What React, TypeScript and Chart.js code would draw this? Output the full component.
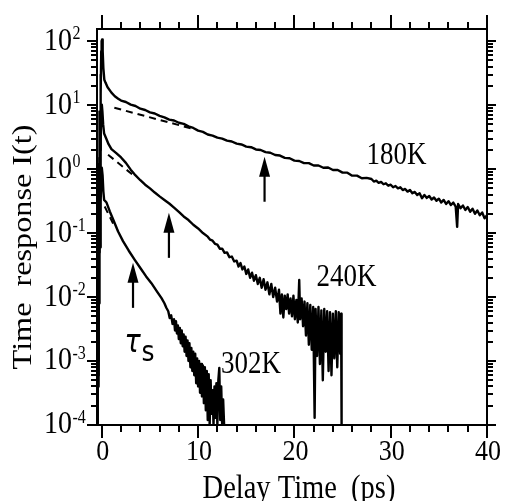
import React, { useEffect, useRef } from "react";
import { Chart, registerables } from "chart.js";

Chart.register(...registerables);

// ---------- axis ranges & ticks ----------
const X_MIN = -0.5;
const X_MAX = 40;
const Y_MIN = 1e-4;
const Y_MAX = 155;
const X_TICKS = [0, 2, 4, 6, 8, 10, 12, 14, 16, 18, 20, 22, 24, 26, 28, 30, 32, 34, 36, 38, 40];
const X_LABELS = [0, 10, 20, 30, 40];
const Y_DECADES = [-4, -3, -2, -1, 0, 1, 2];
const Y_EXP_LABELS = ["-4", "-3", "-2", "-1", "0", "1", "2"];
const Y_MINOR_FACTORS = [2, 3, 4, 5, 6, 7, 8, 9];
const X_TITLE = "Delay Time  (ps)";
const Y_TITLE = "Time  response I(t)";

// ---------- data: [delay (ps), I(t)] ----------
const series180K: [number, number][] = [
  [-0.5, 1.0e-4], [-0.47, 4e-3], [-0.44, 3e-4], [-0.41, 2e-2], [-0.38, 1e-3], [-0.35, 0.15],
  [-0.32, 0.01], [-0.29, 1.2], [-0.26, 0.1], [-0.22, 8], [-0.18, 2], [-0.14, 30], [-0.1, 15],
  [-0.06, 70], [-0.02, 100], [0.03, 106], [0.09, 70], [0.16, 38], [0.26, 25], [0.38, 22.5],
  [0.6, 19], [1.0, 15.7], [1.35, 13.8], [1.7, 12.6], [2.0, 11.8], [2.5, 11.2], [3.0, 10.2],
  [3.5, 9.7], [4.0, 8.8], [4.5, 8.4], [5.0, 7.7], [5.5, 7.4], [6.0, 6.8], [6.5, 6.45], [7.0, 5.95],
  [7.5, 5.75], [8.0, 5.3], [8.5, 5.1], [9.0, 4.65], [9.5, 4.4], [10.0, 4.0], [10.5, 3.82],
  [11.0, 3.48], [11.5, 3.34], [12.0, 3.1], [12.5, 3.0], [13.0, 2.79], [13.5, 2.7], [14.0, 2.5],
  [14.5, 2.43], [15.0, 2.25], [15.5, 2.2], [16.0, 2.03], [16.5, 1.99], [17.0, 1.84], [17.5, 1.8],
  [18.0, 1.66], [18.5, 1.63], [19.0, 1.5], [19.5, 1.48], [20.0, 1.36], [20.5, 1.34], [21.0, 1.24],
  [21.5, 1.24], [22.0, 1.14], [22.5, 1.14], [23.0, 1.05], [23.5, 1.06], [24.0, 0.97], [24.5, 0.97],
  [25.0, 0.88], [25.5, 0.88], [26.0, 0.79], [26.5, 0.79], [27.0, 0.72], [27.5, 0.73], [28.0, 0.7],
  [28.25, 0.64], [28.5, 0.66], [28.75, 0.61], [29.0, 0.63], [29.25, 0.58], [29.5, 0.6], [29.75, 0.55],
  [30.0, 0.57], [30.25, 0.52], [30.5, 0.545], [30.75, 0.5], [31.0, 0.52], [31.25, 0.47], [31.5, 0.49],
  [31.75, 0.445], [32.0, 0.47], [32.25, 0.42], [32.5, 0.44], [32.75, 0.395], [33.0, 0.42], [33.25, 0.35],
  [33.5, 0.395], [33.75, 0.355], [34.0, 0.38], [34.25, 0.335], [34.5, 0.36], [34.75, 0.32], [35.0, 0.345],
  [35.25, 0.3], [35.5, 0.33], [35.75, 0.285], [36.0, 0.315], [36.25, 0.275], [36.5, 0.3], [36.75, 0.26],
  [36.9, 0.125], [37.0, 0.285], [37.25, 0.245], [37.5, 0.27], [37.75, 0.23], [38.0, 0.255], [38.25, 0.215],
  [38.5, 0.24], [38.75, 0.2], [39.0, 0.225], [39.25, 0.19], [39.5, 0.21], [39.75, 0.17], [40.0, 0.19],
];

const series240K: [number, number][] = [
  [-0.5, 1.1e-4], [-0.47, 2e-3], [-0.44, 2e-4], [-0.41, 8e-3], [-0.38, 6e-4], [-0.35, 0.05],
  [-0.32, 4e-3], [-0.29, 0.3], [-0.26, 0.05], [-0.22, 1.5], [-0.18, 0.6], [-0.14, 5], [-0.1, 3],
  [-0.05, 9], [0.0, 10.2], [0.06, 8], [0.14, 5], [0.24, 3.6], [0.38, 3.2], [0.5, 2.9], [0.7, 2.45],
  [1.0, 2.05], [1.5, 1.78], [2.0, 1.52], [2.5, 1.25], [3.0, 0.98], [3.4, 0.83], [4.0, 0.67],
  [4.5, 0.57], [5.0, 0.5], [5.5, 0.43], [6.0, 0.375], [6.5, 0.33], [7.0, 0.29], [7.5, 0.25],
  [8.0, 0.215], [8.5, 0.182], [9.0, 0.16], [9.5, 0.135], [10.0, 0.118], [10.5, 0.1], [11.0, 0.088],
  [11.25, 0.079], [11.5, 0.076], [11.75, 0.068], [12.0, 0.066], [12.25, 0.057], [12.5, 0.057],
  [12.75, 0.049], [13.0, 0.05], [13.25, 0.042], [13.5, 0.043], [13.75, 0.036], [14.0, 0.037],
  [14.2, 0.03], [14.4, 0.034], [14.6, 0.027], [14.8, 0.03], [15.0, 0.023], [15.2, 0.027], [15.4, 0.02],
  [15.6, 0.024], [15.8, 0.018], [16.0, 0.022], [16.2, 0.016], [16.4, 0.02], [16.6, 0.014], [16.8, 0.019],
  [17.0, 0.013], [17.2, 0.017], [17.4, 0.011], [17.6, 0.016], [17.8, 0.01], [18.0, 0.014], [18.2, 0.0085],
  [18.4, 0.013], [18.55, 0.0055], [18.7, 0.011], [18.85, 0.0048], [19.0, 0.0105], [19.15, 0.0065],
  [19.3, 0.011], [19.45, 0.0055], [19.6, 0.0095], [19.75, 0.005], [19.9, 0.0105], [20.05, 0.0045],
  [20.2, 0.009], [20.35, 0.004], [20.5, 0.0185], [20.6, 0.0045], [20.75, 0.0095], [20.9, 0.0035],
  [21.05, 0.0085], [21.2, 0.0025], [21.35, 0.008], [21.5, 0.0018], [21.65, 0.0075], [21.8, 0.0015],
  [21.95, 0.007], [22.1, 1.3e-4], [22.2, 0.0065], [22.35, 0.0012], [22.5, 0.007], [22.65, 0.0009],
  [22.8, 0.0062], [22.95, 0.0005], [23.1, 0.0065], [23.25, 0.0014], [23.4, 0.006], [23.55, 0.0007],
  [23.7, 0.0058], [23.85, 0.0006], [24.0, 0.0055], [24.15, 0.0011], [24.3, 0.006], [24.45, 0.0008],
  [24.6, 0.0058], [24.75, 0.0013], [24.85, 0.0055], [24.9, 1.0e-4],
];

const series302K: [number, number][] = [
  [-0.5, 1.0e-4], [-0.47, 1e-3], [-0.44, 1.5e-4], [-0.41, 3e-3], [-0.38, 4e-4], [-0.35, 0.01],
  [-0.32, 1e-3], [-0.29, 0.05], [-0.26, 0.008], [-0.22, 0.2], [-0.18, 0.06], [-0.14, 0.6], [-0.1, 0.3],
  [-0.05, 0.9], [0.0, 1.05], [0.08, 0.8], [0.16, 0.45], [0.24, 0.33], [0.49, 0.3], [0.83, 0.218],
  [1.2, 0.16], [1.69, 0.106], [2.2, 0.075], [2.8, 0.053], [3.42, 0.0382], [4.0, 0.0285], [4.6, 0.021],
  [5.15, 0.0165], [5.7, 0.0124], [6.2, 0.0096], [6.5, 0.008], [6.7, 0.0068], [6.9, 0.006], [7.05, 0.0047],
  [7.2, 0.0052], [7.35, 0.0038], [7.5, 0.0045], [7.6, 0.003], [7.7, 0.0042], [7.8, 0.0027], [7.9, 0.0036],
  [8.0, 0.0022], [8.1, 0.0033], [8.2, 0.0019], [8.3, 0.003], [8.4, 0.0017], [8.5, 0.0026], [8.6, 0.0014],
  [8.7, 0.0024], [8.8, 0.0012], [8.9, 0.0021], [9.0, 0.001], [9.1, 0.0019], [9.2, 0.0008], [9.3, 0.0016],
  [9.4, 0.0007], [9.5, 0.0014], [9.6, 0.0006], [9.7, 0.0013], [9.8, 0.00045], [9.9, 0.0011], [10.0, 0.0004],
  [10.1, 0.001], [10.2, 0.00032], [10.3, 0.0009], [10.4, 0.00028], [10.5, 0.00085], [10.6, 0.00022],
  [10.7, 0.0008], [10.8, 0.00017], [10.9, 0.0007], [11.0, 0.00012], [11.1, 0.00062], [11.2, 1.0e-4],
  [11.3, 0.0005], [11.4, 0.00015], [11.5, 0.00035], [11.6, 1.0e-4], [11.7, 0.0004], [11.8, 0.00013],
  [11.9, 0.00045], [12.0, 1.0e-4], [12.1, 0.0005], [12.2, 0.00078], [12.3, 0.00012], [12.4, 0.0004],
  [12.5, 1.0e-4], [12.6, 0.00025], [12.7, 1.0e-4],
];

// dashed single-exponential fits
const fit180K: [number, number][] = [[1.3, 9.1], [9.6, 4.2]];
const fit240K: [number, number][] = [[0.65, 1.68], [3.5, 0.75]];
const fit302K: [number, number][] = [[0.3, 0.26], [1.4, 0.12]];

// annotations (data coordinates)
const CURVE_LABELS = ["180K", "240K", "302K"];
const CURVE_LABEL_T = [30.6, 25.4, 15.5];
const CURVE_LABEL_V = [1.62, 0.02, 8.7e-4];
const ARROW_T = [16.9, 6.97, 3.24];
const ARROW_TIP = [1.56, 0.208, 0.0343];
const ARROW_BASE = [0.309, 0.041, 0.00678];
const TAU_T = 2.35;
const TAU_V = 0.00139;

const SERIF = '"Liberation Serif", "Times New Roman", serif';
const STRETCH = 1.15;

function toXY(arr: [number, number][]) {
  return arr.map(([x, y]) => ({ x, y }));
}

function stretchedText(
  ctx: CanvasRenderingContext2D,
  text: string,
  x: number,
  y: number,
  font: string,
  align: CanvasTextAlign,
  baseline: CanvasTextBaseline = "middle"
) {
  ctx.save();
  ctx.translate(x, y);
  ctx.scale(1, STRETCH);
  ctx.font = font;
  ctx.textAlign = align;
  ctx.textBaseline = baseline;
  ctx.fillText(text, 0, 0);
  ctx.restore();
}

const decorPlugin = {
  id: "decor",
  afterDatasetsDraw(chart: any) {
    const { ctx, chartArea: a, scales } = chart;
    const xs = scales.x;
    const ys = scales.y;
    ctx.save();
    ctx.strokeStyle = "#000";
    ctx.fillStyle = "#000";
    ctx.lineWidth = 2;
    ctx.lineCap = "butt";
    ctx.strokeRect(a.left, a.top, a.right - a.left, a.bottom - a.top);

    // x ticks (outward, top & bottom)
    ctx.beginPath();
    for (const t of X_TICKS) {
      const px = Math.round(xs.getPixelForValue(t));
      const major = X_LABELS.includes(t);
      ctx.moveTo(px, a.bottom);
      ctx.lineTo(px, a.bottom + (major ? 13 : 7));
      ctx.moveTo(px, a.top);
      ctx.lineTo(px, a.top - (major ? 14 : 7));
    }
    // y ticks (outward, left & right)
    for (const d of Y_DECADES) {
      const base = Math.pow(10, d);
      const py = Math.round(ys.getPixelForValue(base));
      ctx.moveTo(a.left, py);
      ctx.lineTo(a.left - 10, py);
      ctx.moveTo(a.right, py);
      ctx.lineTo(a.right + 9, py);
      for (const k of Y_MINOR_FACTORS) {
        const v = k * base;
        if (v > Y_MAX) break;
        const pm = Math.round(ys.getPixelForValue(v));
        ctx.moveTo(a.left, pm);
        ctx.lineTo(a.left - 6, pm);
        ctx.moveTo(a.right, pm);
        ctx.lineTo(a.right + 6, pm);
      }
    }
    ctx.stroke();

    // x tick labels
    for (const t of X_LABELS) {
      const px = xs.getPixelForValue(t);
      stretchedText(ctx, String(t), px + 1, a.bottom + 27, `26px ${SERIF}`, "center");
    }
    // y tick labels 10^n
    Y_DECADES.forEach((d, i) => {
      const py = ys.getPixelForValue(Math.pow(10, d));
      stretchedText(ctx, "10", 72, py, `28px ${SERIF}`, "right");
      stretchedText(ctx, Y_EXP_LABELS[i], 72.5, py - 7, `16px ${SERIF}`, "left");
    });

    // axis titles
    stretchedText(ctx, X_TITLE, 299, 489, `28.5px ${SERIF}`, "center");
    ctx.save();
    ctx.translate(23.5, 247);
    ctx.rotate(-Math.PI / 2);
    ctx.scale(STRETCH, 1);
    ctx.font = `28px ${SERIF}`;
    ctx.textAlign = "center";
    ctx.textBaseline = "middle";
    ctx.fillText(Y_TITLE, 0, 0);
    ctx.restore();

    // curve labels
    CURVE_LABELS.forEach((txt, i) => {
      stretchedText(
        ctx,
        txt,
        xs.getPixelForValue(CURVE_LABEL_T[i]),
        ys.getPixelForValue(CURVE_LABEL_V[i]),
        `27px ${SERIF}`,
        "center"
      );
    });

    // arrows
    ARROW_T.forEach((t, i) => {
      const px = xs.getPixelForValue(t);
      const tip = ys.getPixelForValue(ARROW_TIP[i]);
      const base = ys.getPixelForValue(ARROW_BASE[i]);
      const head = 20;
      ctx.lineWidth = 2.2;
      ctx.beginPath();
      ctx.moveTo(px, base);
      ctx.lineTo(px, tip + head - 2);
      ctx.stroke();
      ctx.beginPath();
      ctx.moveTo(px, tip);
      ctx.lineTo(px - 5.5, tip + head);
      ctx.lineTo(px + 5.5, tip + head);
      ctx.closePath();
      ctx.fill();
    });

    // tau_s
    const tx = xs.getPixelForValue(TAU_T);
    const ty = ys.getPixelForValue(TAU_V);
    stretchedText(ctx, "τ", tx, ty, `italic 27px "DejaVu Sans", sans-serif`, "left", "alphabetic");
    stretchedText(ctx, "s", tx + 17, ty + 9, `25px "DejaVu Sans", sans-serif`, "left", "alphabetic");

    ctx.restore();
  },
};

export default function App() {
  const canvasRef = useRef<HTMLCanvasElement | null>(null);

  useEffect(() => {
    if (!canvasRef.current) return;
    const solid = (arr: [number, number][]) => ({
      data: toXY(arr),
      borderColor: "#000",
      borderWidth: 2.4,
      pointRadius: 0,
      fill: false,
      tension: 0,
      borderJoinStyle: "round" as const,
    });
    const dashed = (arr: [number, number][]) => ({
      data: toXY(arr),
      borderColor: "#000",
      borderWidth: 2,
      borderDash: [7, 5],
      pointRadius: 0,
      fill: false,
      tension: 0,
    });
    const chart = new Chart(canvasRef.current, {
      type: "line",
      data: {
        datasets: [
          solid(series180K),
          solid(series240K),
          solid(series302K),
          dashed(fit180K),
          dashed(fit240K),
          dashed(fit302K),
        ],
      },
      options: {
        animation: false,
        responsive: true,
        maintainAspectRatio: false,
        layout: { padding: { left: 97, right: 18, top: 29, bottom: 76 } },
        plugins: { legend: { display: false }, tooltip: { enabled: false } },
        scales: {
          x: { type: "linear", min: X_MIN, max: X_MAX, display: false },
          y: { type: "logarithmic", min: Y_MIN, max: Y_MAX, display: false },
        },
      },
      plugins: [decorPlugin],
    });
    return () => chart.destroy();
  }, []);

  return (
    <div style={{ position: "fixed", left: 0, top: 0, width: 505, height: 501, background: "#fff" }}>
      <canvas ref={canvasRef} />
    </div>
  );
}
